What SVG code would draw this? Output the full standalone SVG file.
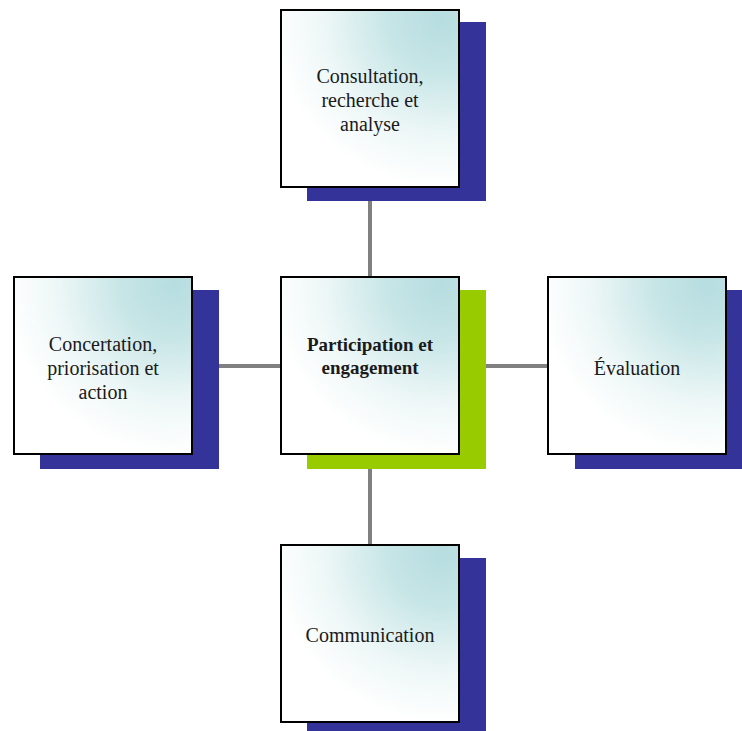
<svg xmlns="http://www.w3.org/2000/svg" width="742" height="731" viewBox="0 0 742 731">
<style>
.shadow{fill:#333399}
.shadow-g{fill:#99cc00}
.box{fill:url(#g);stroke:#000;stroke-width:2}
.t{font-family:"Liberation Serif","Times New Roman",serif;font-size:20px;fill:#1a1a1a;text-anchor:middle}
.b{font-weight:bold;font-size:19px}
.c{stroke:#808080;stroke-width:4;fill:none}
</style>
<defs>
<radialGradient id="g" cx="0.9" cy="0.05" r="0.95" fx="0.9" fy="0.05">
<stop offset="0" stop-color="#b7dde0"/>
<stop offset="0.3" stop-color="#c6e5e6"/>
<stop offset="0.7" stop-color="#eef7f7"/>
<stop offset="1" stop-color="#ffffff"/>
</radialGradient>
</defs>
<rect width="742" height="731" fill="#fff"/>
<g id="connectors">
<line class="c" x1="370" y1="201" x2="370" y2="276"/>
<line class="c" x1="370" y1="469" x2="370" y2="544"/>
<line class="c" x1="219" y1="366" x2="280" y2="366"/>
<line class="c" x1="486" y1="366" x2="547" y2="366"/>
</g>
<g id="top">
<rect class="shadow" x="307" y="22" width="179" height="179"/>
<rect class="box" x="281" y="10" width="178" height="177"/>
<text class="t" x="370" y="83">Consultation,</text>
<text class="t" x="370" y="107">recherche et</text>
<text class="t" x="370" y="131">analyse</text>
</g>
<g id="center">
<rect class="shadow-g" x="307" y="290" width="179" height="179"/>
<rect class="box" x="281" y="277" width="178" height="177"/>
<text class="t b" x="370" y="351">Participation et</text>
<text class="t b" x="370" y="374">engagement</text>
</g>
<g id="left">
<rect class="shadow" x="40" y="290" width="179" height="179"/>
<rect class="box" x="14" y="277" width="178" height="177"/>
<text class="t" x="103" y="351">Concertation,</text>
<text class="t" x="103" y="375">priorisation et</text>
<text class="t" x="103" y="399">action</text>
</g>
<g id="right">
<rect class="shadow" x="575" y="290" width="167" height="179"/>
<rect class="box" x="548" y="277" width="178" height="177"/>
<text class="t" x="637" y="375">Évaluation</text>
</g>
<g id="bottom">
<rect class="shadow" x="307" y="558" width="179" height="173"/>
<rect class="box" x="281" y="545" width="178" height="177"/>
<text class="t" x="370" y="642">Communication</text>
</g>
</svg>
